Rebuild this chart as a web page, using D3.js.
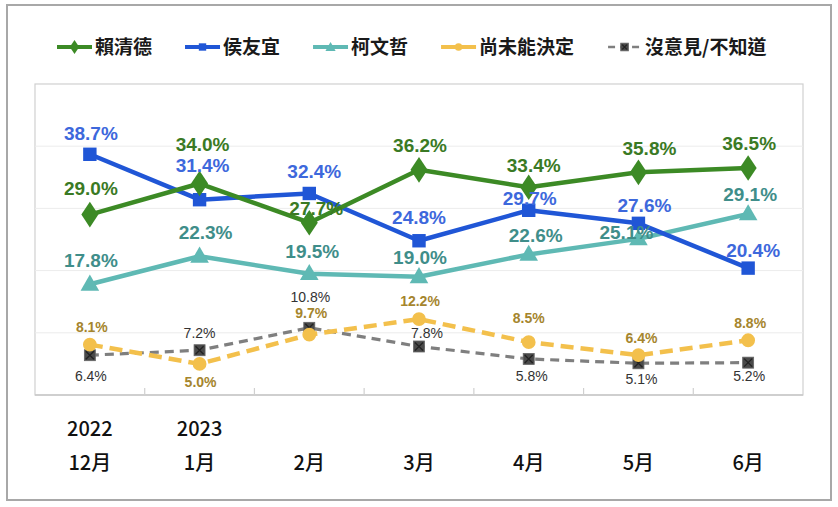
<!DOCTYPE html>
<html>
<head>
<meta charset="utf-8">
<script src="https://cdn.jsdelivr.net/npm/d3@7"></script>
<style>
  html, body { margin: 0; padding: 0; background: #fff; }
  svg { display: block; }
</style>
</head>
<body>
<svg id="chart" width="838" height="507"></svg>
<script>
// ---- data ----
const months = ["12月", "1月", "2月", "3月", "4月", "5月", "6月"];
const yearLabels = ["2022", "2023", "", "", "", "", ""];
const seriesNames = ["賴清德", "侯友宜", "柯文哲", "尚未能決定", "沒意見/不知道"];
const laiValues = [29.0, 34.0, 27.7, 36.2, 33.4, 35.8, 36.5];
const houValues = [38.7, 31.4, 32.4, 24.8, 29.7, 27.6, 20.4];
const koValues = [17.8, 22.3, 19.5, 19.0, 22.6, 25.1, 29.1];
const undecidedValues = [8.1, 5.0, 9.7, 12.2, 8.5, 6.4, 8.8];
const noOpinionValues = [6.4, 7.2, 10.8, 7.8, 5.8, 5.1, 5.2];
const yTicks = [10, 20, 30, 40];

// ---- label layout (offsets of value labels from their point) ----
const labelOffsets = [
  [[1,-26],[3,-39],[7,-15],[1,-25],[5,-22],[11,-24],[1,-25]],
  [[1,-21],[3,-35],[5,-22],[0,-24],[1,-12],[6,-18],[5,-18]],
  [[1,-24],[6,-24],[3,-23],[1,-20],[7,-19],[-12,-7],[2,-20]],
  [[2,-18],[1,18],[2,-22],[1,-18],[0,-24],[3,-17],[2,-17]],
  [[1,21],[0,-17],[1,-31],[8,-14],[3,17],[3,16],[1,13]]
];

const styles = [
  {line:"#3c8a25", text:"#3a7a24", width:4.5, dash:null, marker:"diamond", size:190, fs:19, fw:"bold"},
  {line:"#2056d6", text:"#3d68dc", width:4.5, dash:null, marker:"square", size:180, fs:19, fw:"bold"},
  {line:"#5fb9b4", text:"#3f8e8a", width:4.5, dash:null, marker:"triangle", size:150, fs:19, fw:"bold"},
  {line:"#f3c04c", text:"#a5852d", width:4.5, dash:"13,7", marker:"circle", size:150, fs:14, fw:"bold"},
  {line:"#7f7f7f", text:"#333333", width:3.2, dash:"9,6", marker:"xsquare", size:110, fs:14, fw:"normal"}
];

const allValues = [laiValues, houValues, koValues, undecidedValues, noOpinionValues];

const svg = d3.select("#chart");
const FONT = "'Liberation Sans', Arial, 'Noto Sans CJK TC', sans-serif";
const CJK = "'Noto Sans CJK TC', 'Noto Sans CJK SC', sans-serif";

// outer frame
svg.append("rect").attr("x", 7).attr("y", 5).attr("width", 824).attr("height", 495)
  .attr("fill", "#fff").attr("stroke", "#a8a8a8").attr("stroke-width", 2);

const plot = {left: 35, right: 803, top: 84, bottom: 395};

const x = d3.scalePoint().domain(months).range([plot.left, plot.right]).padding(0.5);
const xBand = d3.scaleBand().domain(months).range([plot.left, plot.right]);
const y = d3.scaleLinear().domain([0, 50]).range([plot.bottom, plot.top]);

// plot area border
svg.append("rect").attr("x", plot.left).attr("y", plot.top)
  .attr("width", plot.right - plot.left).attr("height", plot.bottom - plot.top)
  .attr("fill", "#fff").attr("stroke", "#d0d0d0").attr("stroke-width", 1.2);

// gridlines
svg.append("g").selectAll("line").data(yTicks).join("line")
  .attr("x1", plot.left).attr("x2", plot.right)
  .attr("y1", d => y(d)).attr("y2", d => y(d))
  .attr("stroke", "#ececec").attr("stroke-width", 1);

// x axis with ticks between categories
const xAxisG = svg.append("g").attr("transform", `translate(0,${plot.bottom})`);
xAxisG.append("line").attr("x1", plot.left).attr("x2", plot.right).attr("y1", 0).attr("y2", 0)
  .attr("stroke", "#c8c8c8").attr("stroke-width", 1.5);
xAxisG.selectAll("line.tick").data(months.slice(1)).join("line").attr("class", "tick")
  .attr("x1", d => xBand(d)).attr("x2", d => xBand(d)).attr("y1", 0).attr("y2", -7)
  .attr("stroke", "#d0d0d0").attr("stroke-width", 1.2);

// x labels
svg.append("g").selectAll("text").data(months).join("text")
  .attr("x", d => x(d)).attr("y", 463).attr("dy", "0.35em")
  .attr("text-anchor", "middle").attr("font-family", CJK).attr("font-size", 20)
  .attr("font-weight", 500).attr("fill", "#111").text(d => d);
svg.append("g").selectAll("text").data(months.map((m, i) => ({m, t: yearLabels[i]})).filter(d => d.t))
  .join("text")
  .attr("x", d => x(d.m)).attr("y", 429).attr("dy", "0.35em")
  .attr("text-anchor", "middle").attr("font-family", CJK).attr("font-size", 20)
  .attr("font-weight", 500).attr("fill", "#111").text(d => d.t);

// marker drawing
function drawMarker(g, st, cx, cy, scale) {
  const s = scale || 1;
  if (st.marker === "xsquare") {
    const h = 5.5 * s;
    g.append("rect").attr("x", cx - h).attr("y", cy - h).attr("width", 2*h).attr("height", 2*h)
      .attr("fill", "#4a4a4a").attr("stroke", "#666").attr("stroke-width", 0.8);
    g.append("path").attr("d", `M${cx-h+1.5},${cy-h+1.5}L${cx+h-1.5},${cy+h-1.5}M${cx+h-1.5},${cy-h+1.5}L${cx-h+1.5},${cy+h-1.5}`)
      .attr("stroke", "#222").attr("stroke-width", 1.3);
    return;
  }
  const typeMap = {diamond: d3.symbolDiamond, square: d3.symbolSquare, triangle: d3.symbolTriangle, circle: d3.symbolCircle};
  const sym = d3.symbol().type(typeMap[st.marker]).size(st.size * s * s);
  let ty = cy;
  if (st.marker === "triangle") ty = cy + 1;
  const p = g.append("path").attr("d", sym()).attr("transform", `translate(${cx},${ty})`)
    .attr("fill", st.line);
  if (st.marker === "diamond") p.attr("transform", `translate(${cx},${cy}) scale(1.15,1)`);
}

// series
const line = d3.line().x((d, i) => x(months[i])).y(d => y(d));
// draw in order: gray, yellow, cyan, blue, green (green on top)
const drawOrder = [4, 3, 2, 1, 0];
drawOrder.forEach(si => {
  const st = styles[si];
  const vals = allValues[si];
  const g = svg.append("g");
  const path = g.append("path").datum(vals).attr("d", line)
    .attr("fill", "none").attr("stroke", st.line).attr("stroke-width", st.width)
    .attr("stroke-linejoin", "round");
  if (st.dash) path.attr("stroke-dasharray", st.dash);
  vals.forEach((v, i) => drawMarker(g, st, x(months[i]), y(v)));
});

// value labels
drawOrder.forEach(si => {
  const st = styles[si];
  const vals = allValues[si];
  svg.append("g").selectAll("text").data(vals).join("text")
    .attr("x", (d, i) => x(months[i]) + labelOffsets[si][i][0])
    .attr("y", (d, i) => y(d) + labelOffsets[si][i][1])
    .attr("dy", "0.36em").attr("text-anchor", "middle")
    .attr("font-family", FONT).attr("font-size", st.fs).attr("font-weight", st.fw)
    .attr("fill", st.text)
    .text(d => d.toFixed(1) + "%");
});

// legend
const legend = svg.append("g");
let lx = 57;
const ly = 47;
seriesNames.forEach((name, si) => {
  const st = styles[si];
  const g = legend.append("g");
  const ln = g.append("line").attr("x1", lx).attr("x2", lx + 35).attr("y1", ly).attr("y2", ly)
    .attr("stroke", st.line).attr("stroke-width", si === 4 ? 2.5 : 4);
  if (si === 4) ln.attr("stroke-dasharray", "7,5").attr("stroke-dashoffset", -1);
  drawMarker(g, st, lx + 17.5, ly, si === 4 ? 0.7 : 0.55);
  const t = g.append("text").attr("x", lx + 38).attr("y", ly).attr("dy", "0.36em")
    .attr("font-family", CJK).attr("font-size", 19).attr("font-weight", "bold")
    .attr("fill", "#1a1a1a").text(name);
  lx = lx + 38 + t.node().getComputedTextLength() + 33;
});
</script>
</body>
</html>
